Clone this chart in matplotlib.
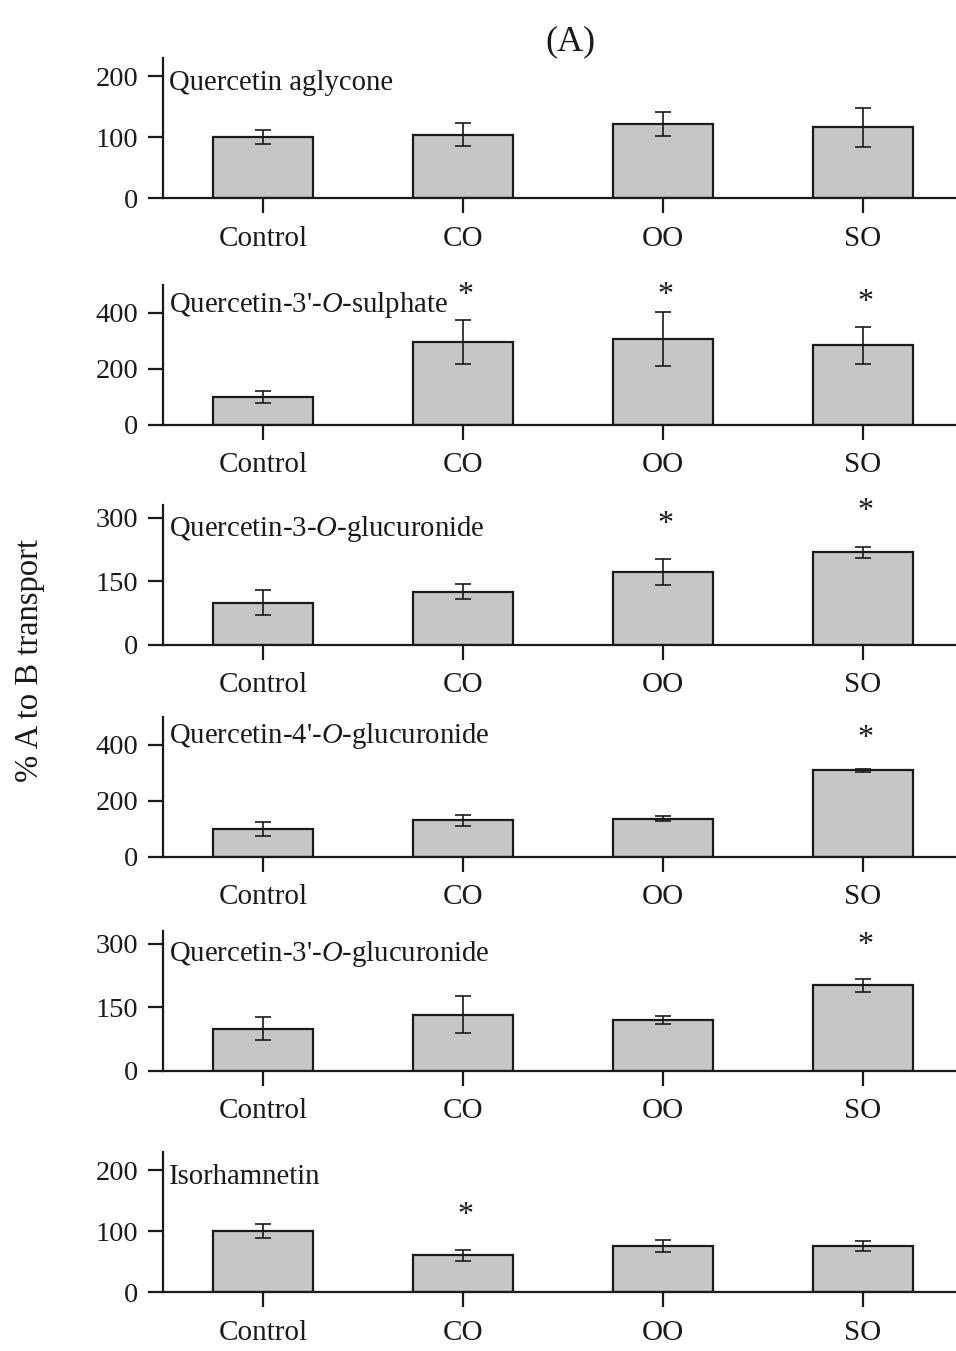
import matplotlib
matplotlib.use("Agg")
import matplotlib.pyplot as plt
import numpy as np

plt.rcParams['font.family'] = ['Liberation Serif', 'DejaVu Serif']
plt.rcParams['mathtext.fontset'] = 'custom'
plt.rcParams['mathtext.it'] = 'Liberation Serif:italic'
plt.rcParams['mathtext.rm'] = 'Liberation Serif'

categories = ["Control", "CO", "OO", "SO"]

titles = [
    "Quercetin aglycone",
    "Quercetin-3'-$O$-sulphate",
    "Quercetin-3-$O$-glucuronide",
    "Quercetin-4'-$O$-glucuronide",
    "Quercetin-3'-$O$-glucuronide",
    "Isorhamnetin",
]

aglycone_mean = [100, 104, 122, 116]
aglycone_err = [12, 19, 20, 32]
sulphate_mean = [100, 297, 307, 284]
sulphate_err = [22, 79, 95, 66]
gluc3_mean = [100, 126, 172, 219]
gluc3_err = [30, 18, 31, 13]
gluc4p_mean = [100, 131, 137, 309]
gluc4p_err = [25, 20, 8, 7]
gluc3p_mean = [100, 133, 120, 202]
gluc3p_err = [27, 43, 10, 15]
isorh_mean = [100, 60, 76, 75]
isorh_err = [12, 9, 10, 8]

means = [aglycone_mean, sulphate_mean, gluc3_mean, gluc4p_mean, gluc3p_mean, isorh_mean]
errs = [aglycone_err, sulphate_err, gluc3_err, gluc4p_err, gluc3p_err, isorh_err]

yticks = [[0, 100, 200], [0, 200, 400], [0, 150, 300], [0, 200, 400], [0, 150, 300], [0, 100, 200]]
ytops = [230, 500, 330, 500, 330, 230]

# significance markers: (panel, category index, y position in data units)
stars = [(1, 1, 464), (1, 2, 464), (1, 3, 436),
         (2, 2, 284), (2, 3, 315),
         (3, 3, 422),
         (4, 3, 295),
         (5, 1, 126)]

W, H = 956, 1351
fig = plt.figure(figsize=(W / 100, H / 100), dpi=100)

zero_px = [198, 425, 645, 857, 1071, 1292]
title_y = [0.824, 0.86, 0.831, 0.867, 0.839, 0.824]
ax_h = 140
left_px = 163
ink = '#1a1a1a'

x = np.arange(len(categories))
axes = []
for i in range(6):
    ax = fig.add_axes([left_px / W, (H - zero_px[i]) / H, (W - left_px) / W, ax_h / H])
    axes.append(ax)
    ax.bar(x, means[i], width=0.5, color='#c6c6c6', edgecolor=ink, linewidth=1.6, zorder=2)
    ax.errorbar(x, means[i], yerr=errs[i], fmt='none', ecolor=ink, elinewidth=1.2,
                capsize=6, capthick=1.2, zorder=3)
    ax.set_xlim(-0.5, 3.465)
    ax.set_ylim(0, ytops[i])
    ax.set_yticks(yticks[i])
    ax.set_xticks(x)
    ax.set_xticklabels(categories)
    for s in ['top', 'right']:
        ax.spines[s].set_visible(False)
    for s in ['left', 'bottom']:
        ax.spines[s].set_linewidth(1.6)
        ax.spines[s].set_color(ink)
    ax.tick_params(axis='y', direction='out', length=10.8, width=1.6, pad=7, labelsize=20.5, colors=ink)
    ax.tick_params(axis='x', direction='out', length=10.8, width=1.6, pad=9, labelsize=21, colors=ink)
    ax.text(0.007, title_y[i], titles[i], transform=ax.transAxes, ha='left', va='center',
            fontsize=20.7, color=ink)
    ax.patch.set_alpha(0)

for (p, c, yv) in stars:
    axes[p].text(x[c] + 0.01, yv, "*", ha='center', va='center', fontsize=23, color=ink,
                 clip_on=False)

fig.text(570 / W, 1 - 42 / H, "(A)", ha='center', va='center', fontsize=26, color=ink)
fig.text(30 / W, 1 - 660 / H, "% A to B transport", rotation=90, ha='center', va='center',
         fontsize=23.5, color=ink)

fig.savefig("out.png", dpi=100)
